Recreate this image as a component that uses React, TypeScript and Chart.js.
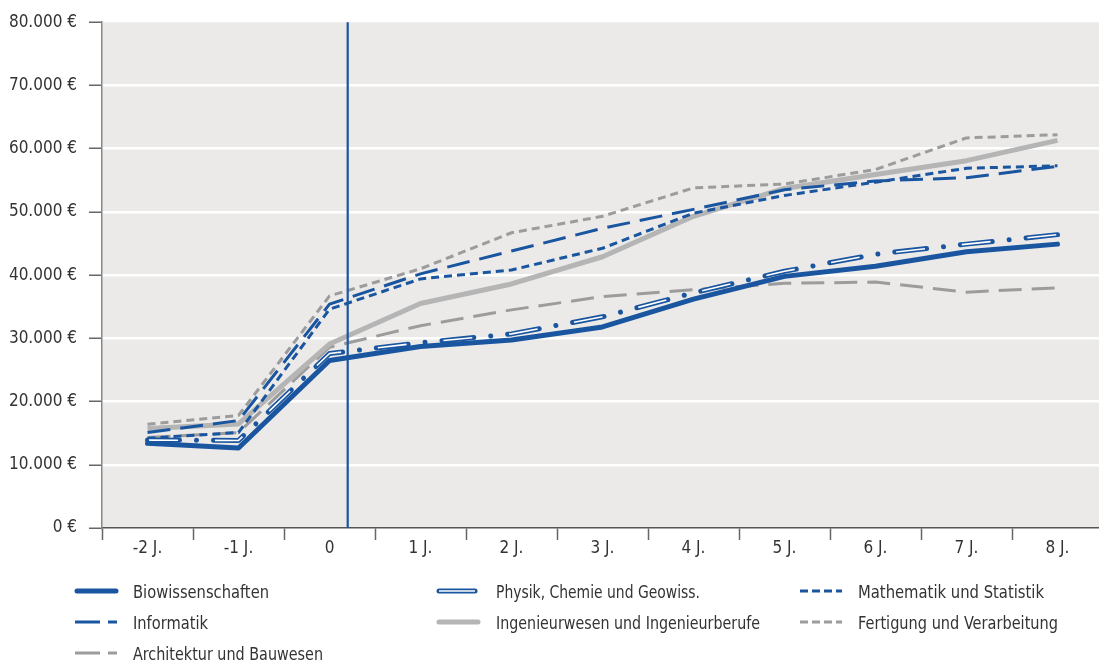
import React, { useEffect, useRef } from "react";
import { Chart, registerables } from "chart.js";

Chart.register(...registerables);

const categories = ["-2 J.", "-1 J.", "0", "1 J.", "2 J.", "3 J.", "4 J.", "5 J.", "6 J.", "7 J.", "8 J."];
const bio = [13400, 12650, 26500, 28700, 29750, 31800, 36200, 39800, 41400, 43700, 44900];
const physik = [13900, 13850, 27600, 29300, 30700, 33400, 37200, 40600, 43300, 44900, 46400];
const mathe = [14200, 15100, 34600, 39400, 40800, 44250, 49800, 52600, 54700, 56900, 57300];
const informatik = [15100, 17000, 35400, 40200, 43800, 47400, 50400, 53500, 54900, 55400, 57200];
const ingenieur = [15750, 16450, 29100, 35500, 38600, 42900, 49300, 53700, 55900, 58100, 61300];
const fertigung = [16400, 17800, 36700, 41000, 46700, 49300, 53800, 54400, 56700, 61700, 62200];
const architektur = [14300, 15100, 28600, 32000, 34500, 36600, 37700, 38700, 38900, 37300, 38000];
const markerPosition = 2.2; // vertical marker between "0" and "1 J."

const BLUE = "#1a55a0";
const LIGHT_GRAY = "#b5b5b5";
const GRAY = "#9c9c9c";
const BG = "#ebeae8";
const TEXT = "#333333";
const FONT = "'Liberation Sans Narrow', 'DejaVu Sans Condensed', 'Roboto', sans-serif";

const fmt = (v: number) => String(v).replace(/\B(?=(\d{3})+(?!\d))/g, ".") + " €";

const bgPlugin = {
  id: "bgPlugin",
  beforeDraw(chart: any) {
    const { ctx, chartArea } = chart;
    ctx.save();
    ctx.fillStyle = BG;
    ctx.fillRect(chartArea.left, chartArea.top, chartArea.right - chartArea.left, chartArea.bottom - chartArea.top);
    ctx.restore();
  },
  afterDatasetsDraw(chart: any) {
    const { ctx, chartArea } = chart;
    const x = chart.scales.x.getPixelForValue(markerPosition);
    ctx.save();
    ctx.strokeStyle = BLUE;
    ctx.lineWidth = 2.2;
    ctx.beginPath();
    ctx.moveTo(x, chartArea.top);
    ctx.lineTo(x, chartArea.bottom);
    ctx.stroke();
    ctx.restore();
  },
};

export default function App() {
  const ref = useRef<HTMLCanvasElement>(null);
  useEffect(() => {
    const base = { pointRadius: 0, tension: 0, fill: false, borderJoinStyle: "round" as const };
    const chart = new Chart(ref.current!, {
      type: "line",
      data: {
        labels: categories,
        datasets: [
          { ...base, label: "Biowissenschaften", data: bio, borderColor: BLUE, borderWidth: 5, borderCapStyle: "round" },
          { ...base, label: "Physik inner", data: physik, borderColor: "#ffffff", borderWidth: 1.6, borderDash: [29, 37], borderDashOffset: -1.5, borderCapStyle: "butt" },
          { ...base, label: "Physik, Chemie und Geowiss.", data: physik, borderColor: BLUE, borderWidth: 5, borderDash: [32, 17, 0.01, 17], borderCapStyle: "round" },
          { ...base, label: "Mathematik und Statistik", data: mathe, borderColor: BLUE, borderWidth: 3, borderDash: [8, 5] },
          { ...base, label: "Informatik", data: informatik, borderColor: BLUE, borderWidth: 3, borderDash: [23, 10] },
          { ...base, label: "Ingenieurwesen und Ingenieurberufe", data: ingenieur, borderColor: LIGHT_GRAY, borderWidth: 5 },
          { ...base, label: "Fertigung und Verarbeitung", data: fertigung, borderColor: GRAY, borderWidth: 3, borderDash: [8, 5] },
          { ...base, label: "Architektur und Bauwesen", data: architektur, borderColor: GRAY, borderWidth: 3, borderDash: [23, 10] },
        ],
      },
      options: {
        animation: false,
        responsive: false,
        layout: { padding: { top: 18, right: 7, left: 0, bottom: 0 } },
        plugins: { legend: { display: false }, tooltip: { enabled: false } },
        scales: {
          x: {
            offset: true,
            grid: {
              offset: true,
              drawOnChartArea: false,
              drawTicks: true,
              tickLength: 12,
              tickColor: "#666",
              tickWidth: 1.5,
            },
            border: { display: true, color: "#555", width: 1.5 },
            ticks: { color: TEXT, font: { family: FONT, size: 17 }, padding: -2, maxRotation: 0 },
            afterFit: (s: any) => { s.height = 572 - 528; },
          },
          y: {
            min: 0,
            max: 80000,
            grid: {
              color: (c: any) => (c.tick && (c.tick.value === 0 || c.tick.value === 80000) ? "rgba(0,0,0,0)" : "#ffffff"),
              lineWidth: 2.5,
              tickLength: 13,
              tickColor: "#666",
              tickWidth: 1.5,
            },
            border: { display: true, color: "#888", width: 1.5 },
            ticks: { stepSize: 10000, color: TEXT, font: { family: FONT, size: 17 }, padding: 12, callback: (v: any) => fmt(Number(v)) },
            afterFit: (s: any) => { s.width = 102; },
          },
        },
      },
      plugins: [bgPlugin],
    });
    return () => chart.destroy();
  }, []);

  const legendY = [591, 622, 653];
  const textStyle = { fontFamily: FONT, fontSize: 18, fill: TEXT } as any;
  const t = (x: number, y: number, w: number, s: string) => (
    <text x={x} y={y} dominantBaseline="central" textLength={w} lengthAdjust="spacingAndGlyphs" style={textStyle}>{s}</text>
  );
  return (
    <div style={{ position: "fixed", left: 0, top: 0, width: 1099, height: 660, overflow: "hidden", background: "#fff" }}>
      <canvas ref={ref} width={1110} height={572} style={{ position: "absolute", left: 0, top: 0 }} />
      <svg width={1099} height={660} style={{ position: "absolute", left: 0, top: 0, pointerEvents: "none" }}>
        {/* column 1 */}
        <line x1={77} y1={legendY[0]} x2={116} y2={legendY[0]} stroke={BLUE} strokeWidth={5} strokeLinecap="round" />
        {t(133, legendY[0], 136, "Biowissenschaften")}
        <line x1={75} y1={legendY[1]} x2={117} y2={legendY[1]} stroke={BLUE} strokeWidth={3} strokeDasharray="25 8" />
        {t(133, legendY[1], 75, "Informatik")}
        <line x1={75} y1={legendY[2]} x2={117} y2={legendY[2]} stroke={GRAY} strokeWidth={3} strokeDasharray="25 8" />
        {t(133, legendY[2], 190, "Architektur und Bauwesen")}
        {/* column 2 */}
        <line x1={439} y1={legendY[0]} x2={475} y2={legendY[0]} stroke={BLUE} strokeWidth={5} strokeLinecap="round" />
        <line x1={439} y1={legendY[0]} x2={475} y2={legendY[0]} stroke="#fff" strokeWidth={1.6} />
        {t(496, legendY[0], 204, "Physik, Chemie und Geowiss.")}
        <line x1={439} y1={legendY[1]} x2={478} y2={legendY[1]} stroke={LIGHT_GRAY} strokeWidth={5} strokeLinecap="round" />
        {t(496, legendY[1], 264, "Ingenieurwesen und Ingenieurberufe")}
        {/* column 3 */}
        <line x1={800} y1={legendY[0]} x2={842} y2={legendY[0]} stroke={BLUE} strokeWidth={3} strokeDasharray="8 4" />
        {t(858, legendY[0], 186, "Mathematik und Statistik")}
        <line x1={800} y1={legendY[1]} x2={842} y2={legendY[1]} stroke={GRAY} strokeWidth={3} strokeDasharray="8 4" />
        {t(858, legendY[1], 200, "Fertigung und Verarbeitung")}
      </svg>
    </div>
  );
}
